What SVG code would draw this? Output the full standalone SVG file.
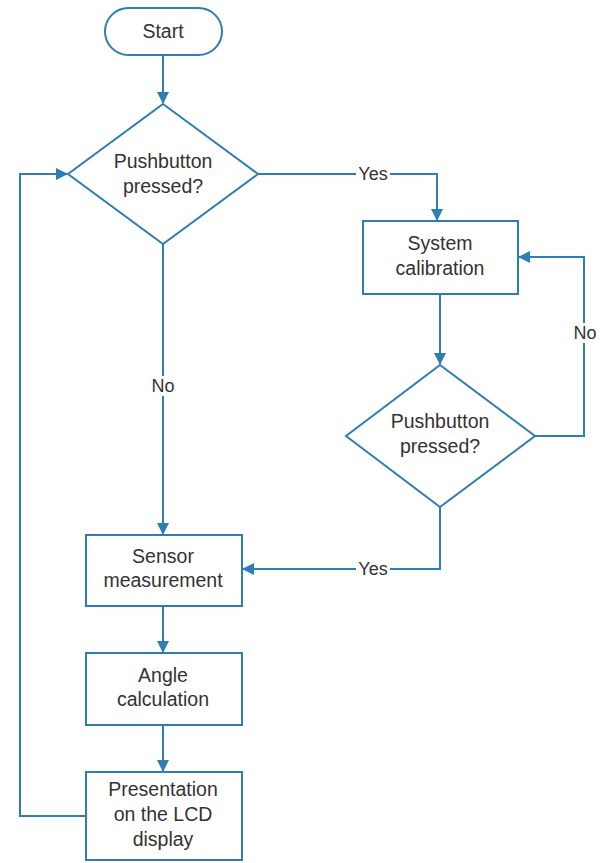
<svg xmlns="http://www.w3.org/2000/svg" width="602" height="863" viewBox="0 0 602 863">
<defs>
<marker id="ah" markerWidth="12" markerHeight="12" refX="11" refY="6" orient="auto" markerUnits="userSpaceOnUse">
<path d="M0,0 L12,6 L0,12 Z" fill="#2e7db3"/>
</marker>
<style>
.n{fill:#fff;stroke:#2e7db3;stroke-width:2}
.c{fill:none;stroke:#2e7db3;stroke-width:2}
.t{font-family:"Liberation Sans",Arial,sans-serif;font-size:19.5px;fill:#333;text-anchor:middle}
.lb{font-family:"Liberation Sans",Arial,sans-serif;font-size:18px;fill:#333;text-anchor:middle}
</style>
</defs>
<rect width="602" height="863" fill="#fff"/>
<g id="connectors">
<path class="c" d="M163,55 V103" marker-end="url(#ah)"/>
<path class="c" d="M258,174 H437 V220" marker-end="url(#ah)"/>
<path class="c" d="M440,294 V364" marker-end="url(#ah)"/>
<path class="c" d="M535,436 H584 V257 H519" marker-end="url(#ah)"/>
<path class="c" d="M440,507 V569 H243" marker-end="url(#ah)"/>
<path class="c" d="M163,244 V534" marker-end="url(#ah)"/>
<path class="c" d="M163,606 V652" marker-end="url(#ah)"/>
<path class="c" d="M163,725 V771" marker-end="url(#ah)"/>
<path class="c" d="M86,816 H20 V174 H67" marker-end="url(#ah)"/>
<rect x="356" y="164" width="34" height="20" fill="#fff"/>
<text class="lb" x="373" y="180">Yes</text>
<rect x="356" y="559" width="34" height="20" fill="#fff"/>
<text class="lb" x="373" y="575">Yes</text>
<rect x="149" y="376" width="28" height="20" fill="#fff"/>
<text class="lb" x="163" y="392">No</text>
<rect x="572" y="323" width="26" height="20" fill="#fff"/>
<text class="lb" x="585" y="339">No</text>
</g>
<g id="start">
<rect class="n" x="105" y="8" width="117" height="47" rx="23.5"/>
<text class="t" x="163" y="38">Start</text>
</g>
<g id="decision1">
<path class="n" d="M163,104 L258,174 L163,244 L68,174 Z"/>
<text class="t" x="163" y="168">Pushbutton</text>
<text class="t" x="163" y="193">pressed?</text>
</g>
<g id="calibration">
<rect class="n" x="363" y="221" width="155" height="73"/>
<text class="t" x="440" y="250">System</text>
<text class="t" x="440" y="275">calibration</text>
</g>
<g id="decision2">
<path class="n" d="M440,365 L535,436 L440,507 L346,436 Z"/>
<text class="t" x="440" y="428">Pushbutton</text>
<text class="t" x="440" y="453">pressed?</text>
</g>
<g id="sensor">
<rect class="n" x="86" y="535" width="156" height="71"/>
<text class="t" x="163" y="563">Sensor</text>
<text class="t" x="163" y="587">measurement</text>
</g>
<g id="angle">
<rect class="n" x="86" y="653" width="156" height="72"/>
<text class="t" x="163" y="682">Angle</text>
<text class="t" x="163" y="706">calculation</text>
</g>
<g id="presentation">
<rect class="n" x="86" y="772" width="156" height="88"/>
<text class="t" x="163" y="796">Presentation</text>
<text class="t" x="163" y="821">on the LCD</text>
<text class="t" x="163" y="846">display</text>
</g>
</svg>
